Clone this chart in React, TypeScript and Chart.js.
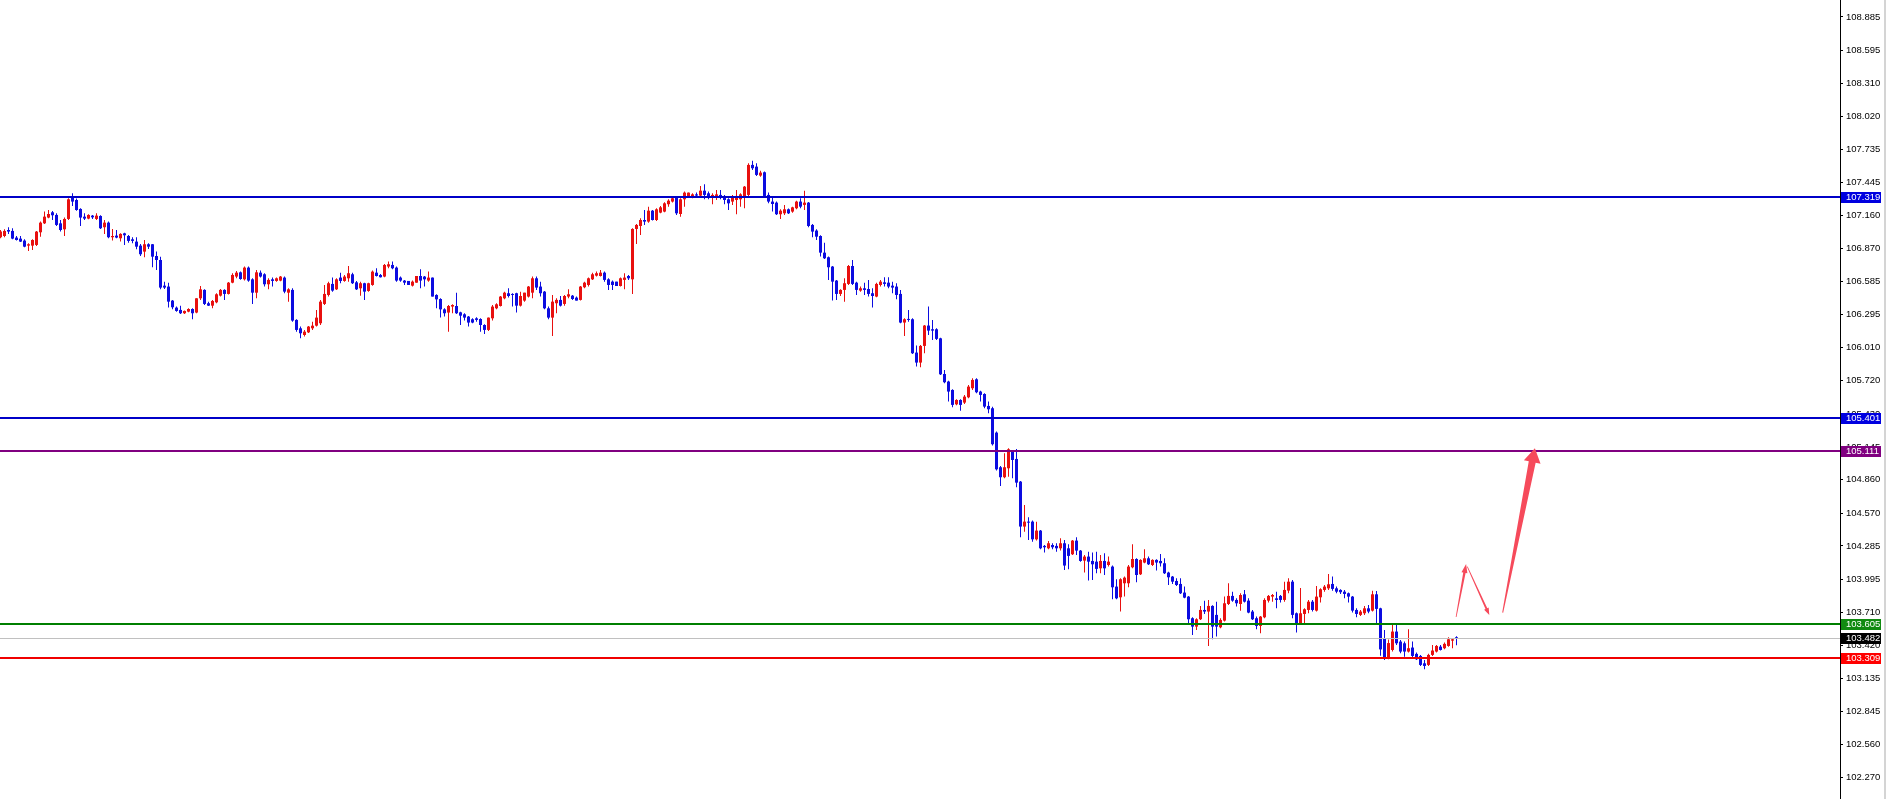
import { useEffect, useRef } from "react";
import { Chart, registerables } from "chart.js";

Chart.register(...registerables);

// ---- Data (USD index style candles) ----
const OPEN = [
  106.969,106.980,107.032,107.024,106.966,106.957,106.940,106.896,106.896,106.902,
  107.012,107.090,107.140,107.186,107.163,107.090,107.038,107.128,107.314,107.293,
  107.215,107.148,107.131,107.157,107.128,107.154,107.056,107.096,106.969,106.983,
  106.960,107.003,106.980,106.951,106.931,106.896,106.844,106.908,106.908,106.806,
  106.771,106.548,106.540,106.418,106.357,106.337,106.308,106.322,106.345,106.314,
  106.438,106.511,106.395,106.374,106.403,106.461,106.511,106.476,106.574,106.627,
  106.664,106.603,106.705,106.603,106.487,106.661,106.647,106.560,106.603,106.589,
  106.592,106.618,106.487,106.511,106.250,106.177,106.119,106.142,106.177,106.200,
  106.221,106.389,106.467,106.563,106.516,106.618,106.589,106.612,106.647,106.577,
  106.525,106.569,106.502,106.554,106.661,106.641,106.627,106.714,106.728,106.705,
  106.618,106.592,106.589,106.548,106.574,106.632,106.627,106.592,106.618,106.467,
  106.432,106.342,106.314,106.366,106.371,106.316,106.299,106.279,106.256,106.264,
  106.258,106.206,106.163,106.264,106.351,106.371,106.438,106.482,106.473,106.482,
  106.374,106.418,106.453,106.487,106.612,106.540,106.496,106.351,106.270,106.395,
  106.424,106.389,106.453,106.461,106.444,106.424,106.534,106.554,106.603,106.635,
  106.632,106.661,106.603,106.583,106.583,106.545,106.598,106.632,106.603,107.041,
  107.067,107.119,107.105,107.200,107.119,107.183,107.192,107.256,107.279,107.322,
  107.171,107.299,107.322,107.314,107.342,107.331,107.374,107.351,107.322,107.328,
  107.337,107.328,107.299,107.279,107.293,107.299,107.322,107.337,107.598,107.583,
  107.505,107.534,107.337,107.279,107.270,107.169,107.177,107.212,107.192,107.221,
  107.279,107.250,107.270,107.076,107.027,106.980,106.835,106.795,106.714,106.592,
  106.476,106.511,106.563,106.719,106.574,106.505,106.525,106.519,106.482,106.453,
  106.554,106.577,106.574,106.548,106.540,106.476,106.227,106.258,106.256,105.966,
  105.879,106.024,106.201,106.169,106.169,106.090,105.780,105.714,105.641,105.516,
  105.554,105.531,105.577,105.656,105.734,105.627,105.606,105.502,105.482,105.270,
  104.969,104.882,104.960,105.114,105.041,104.844,104.453,104.496,104.496,104.342,
  104.418,104.285,104.264,104.293,104.285,104.264,104.308,104.264,104.212,104.331,
  104.244,104.157,104.192,104.154,104.148,104.090,104.154,104.119,104.105,103.931,
  103.838,103.960,103.960,104.099,104.171,104.038,104.140,104.177,104.119,104.163,
  104.154,104.134,104.053,104.018,103.980,103.954,103.879,103.844,103.656,103.583,
  103.647,103.728,103.714,103.763,103.685,103.577,103.635,103.780,103.850,103.815,
  103.780,103.864,103.809,103.714,103.656,103.589,103.664,103.809,103.844,103.829,
  103.850,103.815,103.896,103.974,103.699,103.612,103.693,103.728,103.800,103.722,
  103.838,103.902,103.916,103.954,103.916,103.902,103.887,103.873,103.844,103.728,
  103.685,103.699,103.742,103.722,103.864,103.742,103.482,103.314,103.380,103.540,
  103.453,103.438,103.366,103.401,103.346,103.328,103.264,103.250,103.337,103.366,
  103.409,103.395,103.415,103.461,103.488,
];

const HIGH = [
  107.032,107.038,107.056,107.047,106.980,106.980,106.951,106.916,106.951,107.024,
  107.105,107.192,107.206,107.198,107.177,107.119,107.140,107.308,107.351,107.305,
  107.221,107.177,107.169,107.163,107.177,107.160,107.119,107.105,107.041,107.032,
  107.003,107.009,106.989,106.969,106.969,106.911,106.945,106.916,106.911,106.844,
  106.800,106.583,106.574,106.424,106.366,106.374,106.331,106.351,106.351,106.438,
  106.545,106.516,106.409,106.424,106.482,106.519,106.516,106.580,106.656,106.676,
  106.670,106.714,106.714,106.612,106.685,106.679,106.656,106.612,106.618,106.618,
  106.632,106.627,106.525,106.525,106.256,106.192,106.163,106.198,106.235,106.337,
  106.424,106.554,106.583,106.618,106.612,106.661,106.641,106.719,106.661,106.589,
  106.583,106.574,106.574,106.679,106.699,106.650,106.737,106.757,106.757,106.714,
  106.627,106.598,106.589,106.592,106.632,106.690,106.632,106.670,106.618,106.473,
  106.438,106.351,106.380,106.386,106.487,106.322,106.308,106.285,106.264,106.273,
  106.264,106.212,106.270,106.380,106.395,106.458,106.496,106.525,106.482,106.487,
  106.496,106.487,106.545,106.627,106.627,106.583,106.502,106.366,106.467,106.438,
  106.458,106.467,106.516,106.467,106.453,106.545,106.583,106.618,106.661,106.670,
  106.685,106.670,106.612,106.592,106.583,106.618,106.656,106.641,107.047,107.085,
  107.134,107.206,107.235,107.206,107.221,107.241,107.273,107.299,107.322,107.328,
  107.308,107.366,107.357,107.351,107.357,107.415,107.429,107.366,107.351,107.380,
  107.380,107.337,107.308,107.337,107.380,107.351,107.415,107.612,107.635,107.612,
  107.548,107.540,107.357,107.322,107.279,107.212,107.250,107.218,107.235,107.287,
  107.308,107.374,107.276,107.085,107.038,106.986,106.922,106.801,106.719,106.598,
  106.516,106.612,106.728,106.772,106.583,106.540,106.574,106.598,106.525,106.574,
  106.598,106.621,106.621,106.583,106.569,106.511,106.264,106.337,106.264,106.027,
  106.032,106.206,106.366,106.250,106.177,106.096,105.815,105.722,105.647,105.560,
  105.560,105.598,105.685,105.743,105.743,105.635,105.612,105.540,105.496,105.279,
  104.980,105.090,105.134,105.119,105.128,104.850,104.641,104.534,104.505,104.496,
  104.424,104.293,104.328,104.308,104.308,104.351,104.337,104.299,104.337,104.360,
  104.250,104.206,104.235,104.227,104.235,104.206,104.221,104.192,104.114,103.995,
  104.003,104.018,104.119,104.299,104.177,104.169,104.256,104.192,104.169,104.169,
  104.215,104.177,104.061,104.024,104.003,104.003,103.931,103.850,103.664,103.656,
  103.763,103.809,103.815,103.769,103.800,103.656,103.844,103.960,103.887,103.829,
  103.873,103.902,103.829,103.728,103.670,103.676,103.829,103.858,103.867,103.887,
  103.858,103.974,104.003,103.989,103.705,103.919,103.742,103.815,103.815,103.937,
  103.916,103.945,104.041,104.018,103.931,103.908,103.902,103.879,103.850,103.742,
  103.728,103.763,103.771,103.896,103.893,103.748,103.554,103.470,103.612,103.612,
  103.467,103.453,103.560,103.453,103.357,103.337,103.293,103.346,103.424,103.424,
  103.424,103.444,103.490,103.482,103.500,
];

const LOW = [
  106.960,106.969,106.998,106.951,106.940,106.928,106.882,106.850,106.858,106.893,
  106.974,107.085,107.134,107.119,107.067,107.018,106.980,107.119,107.241,107.200,
  107.067,107.119,107.125,107.128,107.119,107.041,106.998,106.960,106.940,106.960,
  106.931,106.902,106.922,106.916,106.864,106.806,106.795,106.867,106.708,106.685,
  106.516,106.519,106.357,106.342,106.322,106.302,106.302,106.316,106.256,106.308,
  106.424,106.380,106.371,106.351,106.395,106.453,106.424,106.470,106.569,106.612,
  106.600,106.592,106.583,106.389,106.438,106.618,106.540,106.516,106.540,106.583,
  106.586,106.482,106.409,106.235,106.148,106.090,106.105,106.137,106.163,106.192,
  106.206,106.380,106.453,106.496,106.511,106.569,106.583,106.583,106.563,106.511,
  106.461,106.424,106.496,106.548,106.627,106.618,106.621,106.699,106.690,106.583,
  106.583,106.554,106.554,106.540,106.574,106.525,106.540,106.583,106.453,106.351,
  106.270,106.279,106.148,106.308,106.302,106.206,106.244,106.192,106.221,106.235,
  106.148,106.128,106.154,106.244,106.342,106.366,106.429,106.444,106.366,106.314,
  106.366,106.409,106.444,106.438,106.511,106.453,106.342,106.256,106.111,106.308,
  106.366,106.374,106.438,106.424,106.418,106.418,106.525,106.540,106.598,106.627,
  106.627,106.583,106.511,106.511,106.545,106.540,106.516,106.598,106.476,106.911,
  106.989,107.076,107.096,107.114,107.111,107.177,107.186,107.235,107.270,107.163,
  107.148,107.235,107.322,107.308,107.322,107.322,107.299,107.299,107.256,107.293,
  107.299,107.256,107.206,107.250,107.169,107.235,107.221,107.322,107.554,107.502,
  107.496,107.322,107.264,107.192,107.163,107.128,107.163,107.171,107.183,107.212,
  107.221,107.206,107.056,106.969,106.945,106.801,106.780,106.598,106.418,106.424,
  106.458,106.409,106.554,106.554,106.467,106.496,106.467,106.453,106.357,106.447,
  106.540,106.540,106.525,106.482,106.429,106.221,106.111,106.235,105.954,105.844,
  105.838,105.960,106.119,106.076,106.076,105.772,105.699,105.540,105.490,105.508,
  105.461,105.519,105.569,105.641,105.612,105.540,105.482,105.438,105.157,104.940,
  104.806,104.873,104.887,104.873,104.795,104.360,104.409,104.337,104.322,104.331,
  104.256,104.227,104.256,104.256,104.235,104.244,104.076,104.082,104.206,104.206,
  104.148,104.053,103.983,103.989,104.047,104.047,104.032,104.105,103.821,103.821,
  103.714,103.844,103.925,104.090,103.969,104.032,104.134,104.119,104.111,104.070,
  104.105,104.041,103.945,103.954,103.937,103.867,103.829,103.612,103.511,103.554,
  103.641,103.693,103.415,103.473,103.496,103.569,103.627,103.771,103.800,103.757,
  103.722,103.792,103.699,103.641,103.560,103.525,103.656,103.792,103.800,103.742,
  103.792,103.800,103.873,103.656,103.531,103.598,103.612,103.699,103.714,103.714,
  103.792,103.887,103.902,103.896,103.873,103.867,103.829,103.792,103.705,103.664,
  103.676,103.685,103.699,103.714,103.612,103.330,103.293,103.299,103.366,103.424,
  103.351,103.322,103.357,103.317,103.293,103.241,103.212,103.241,103.328,103.357,
  103.375,103.386,103.409,103.395,103.420,
];

const CLOSE = [
  107.018,107.024,107.018,106.957,106.945,106.931,106.887,106.908,106.945,107.018,
  107.096,107.148,107.171,107.160,107.076,107.032,107.128,107.299,107.279,107.206,
  107.140,107.131,107.163,107.142,107.157,107.047,107.096,106.969,106.980,106.966,
  106.998,106.986,106.937,106.937,106.887,106.821,106.908,106.887,106.800,106.771,
  106.531,106.531,106.409,106.360,106.328,106.308,106.328,106.345,106.308,106.438,
  106.516,106.389,106.374,106.415,106.473,106.511,106.476,106.574,106.641,106.661,
  106.606,106.705,106.592,106.487,106.664,106.627,106.560,106.598,106.589,106.612,
  106.627,106.496,106.516,106.244,106.163,106.134,106.148,106.192,106.200,106.270,
  106.409,106.476,106.569,106.505,106.603,106.589,106.627,106.656,106.569,106.516,
  106.569,106.496,106.569,106.670,106.632,106.621,106.728,106.734,106.699,106.592,
  106.592,106.574,106.554,106.583,106.632,106.592,106.603,106.618,106.453,106.429,
  106.342,106.308,106.371,106.380,106.308,106.287,106.270,106.227,106.227,106.250,
  106.206,106.163,106.270,106.366,106.386,106.453,106.487,106.458,106.467,106.374,
  106.458,106.487,106.540,106.612,106.531,106.482,106.351,106.270,106.409,106.424,
  106.374,106.458,106.473,106.432,106.418,106.540,106.574,106.612,106.647,106.656,
  106.661,106.598,106.554,106.554,106.545,106.612,106.618,106.612,107.041,107.076,
  107.119,107.105,107.200,107.119,107.212,107.229,107.264,107.287,107.308,107.177,
  107.299,107.357,107.357,107.342,107.331,107.374,107.337,107.322,107.337,107.342,
  107.314,107.293,107.264,107.322,107.328,107.342,107.409,107.598,107.569,107.511,
  107.531,107.328,107.279,107.258,107.169,107.200,107.212,107.177,107.229,107.279,
  107.235,107.270,107.067,107.018,106.974,106.835,106.786,106.708,106.583,106.476,
  106.511,106.569,106.719,106.563,106.511,106.525,106.511,106.476,106.458,106.563,
  106.583,106.563,106.540,106.531,106.467,106.227,106.256,106.250,105.960,105.879,
  106.024,106.201,106.157,106.157,106.085,105.777,105.708,105.627,105.511,105.554,
  105.511,105.583,105.670,105.728,105.621,105.598,105.496,105.473,105.169,104.951,
  104.882,104.969,105.125,105.032,104.835,104.453,104.496,104.487,104.342,104.418,
  104.264,104.273,104.308,104.273,104.264,104.308,104.114,104.198,104.331,104.244,
  104.154,104.192,104.148,104.125,104.085,104.154,104.090,104.148,103.925,103.829,
  103.995,104.009,104.105,104.171,104.032,104.163,104.177,104.125,104.163,104.140,
  104.134,104.047,104.012,103.974,103.945,103.873,103.835,103.647,103.583,103.647,
  103.728,103.714,103.763,103.583,103.583,103.641,103.786,103.850,103.809,103.786,
  103.858,103.800,103.705,103.647,103.589,103.670,103.815,103.850,103.858,103.815,
  103.815,103.902,103.974,103.685,103.612,103.699,103.734,103.800,103.728,103.844,
  103.908,103.931,103.951,103.911,103.887,103.882,103.867,103.844,103.722,103.693,
  103.714,103.742,103.714,103.864,103.737,103.385,103.308,103.440,103.540,103.438,
  103.366,103.366,103.395,103.328,103.299,103.250,103.241,103.337,103.375,103.415,
  103.380,103.433,103.473,103.473,103.482,
];

// Price-axis tick labels shown on the right
const Y_TICKS = [
  108.885, 108.595, 108.31, 108.02, 107.735, 107.445, 107.16, 106.87, 106.585,
  106.295, 106.01, 105.72, 105.43, 105.145, 104.86, 104.57, 104.285, 103.995,
  103.71, 103.42, 103.135, 102.845, 102.56, 102.27,
];

// Horizontal levels and their tags
const LEVEL_VALUES = [107.319, 105.401, 105.111, 103.605, 103.309];
const LEVEL_COLORS = ["#0000c8", "#0000c8", "#800080", "#007f00", "#f00000"];
const TAG_COLORS = ["#0000e0", "#0000e0", "#800080", "#108a10", "#ff0000"];
const BID_VALUE = 103.482;

// Hand-drawn arrows, in data units: [x index, price]
const ARROW_FROM = [[363.9, 103.667], [366.7, 104.104], [375.55, 103.704]];
const ARROW_TO = [[366.4, 104.128], [372.2, 103.684], [383.6, 105.134]];

// ---- styles ----
const BULL = "#e8100f";
const BEAR = "#0c0ce0";
const ARROW_COLOR = "#f64a5b";
const ARROW_SHAPES = [
  { w0: 0.8, w1: 2.4, hw: 6, hl: 9 },
  { w0: 0.8, w1: 2.0, hw: 5, hl: 7 },
  { w0: 1.0, w1: 7.0, hw: 17, hl: 14 },
];
const FONT = "Liberation Sans";
const FONT_SIZE = 9.5;
const AXIS_W = 46;

function drawArrow(ctx: CanvasRenderingContext2D, x0: number, y0: number, x1: number, y1: number, s: { w0: number; w1: number; hw: number; hl: number }) {
  const dx = x1 - x0, dy = y1 - y0;
  const len = Math.hypot(dx, dy);
  const ux = dx / len, uy = dy / len;
  const nx = -uy, ny = ux;
  const bx = x1 - ux * s.hl, by = y1 - uy * s.hl;
  ctx.beginPath();
  ctx.moveTo(x0 + nx * s.w0 / 2, y0 + ny * s.w0 / 2);
  ctx.lineTo(bx + nx * s.w1 / 2, by + ny * s.w1 / 2);
  ctx.lineTo(bx + nx * s.hw / 2, by + ny * s.hw / 2);
  ctx.lineTo(x1, y1);
  ctx.lineTo(bx - nx * s.hw / 2, by - ny * s.hw / 2);
  ctx.lineTo(bx - nx * s.w1 / 2, by - ny * s.w1 / 2);
  ctx.lineTo(x0 - nx * s.w0 / 2, y0 - ny * s.w0 / 2);
  ctx.closePath();
  ctx.fill();
}

const overlayPlugin = {
  id: "overlay",
  afterDatasetsDraw(chart: any) {
    const { ctx, chartArea, scales } = chart;
    const y = scales.y, x = scales.x;
    ctx.save();
    const by = Math.round(y.getPixelForValue(BID_VALUE)) + 0.5;
    ctx.strokeStyle = "#c0c0c0";
    ctx.lineWidth = 1;
    ctx.beginPath();
    ctx.moveTo(chartArea.left, by);
    ctx.lineTo(chartArea.right, by);
    ctx.stroke();
    LEVEL_VALUES.forEach((v, i) => {
      const py = Math.round(y.getPixelForValue(v));
      ctx.strokeStyle = LEVEL_COLORS[i];
      ctx.lineWidth = 2;
      ctx.beginPath();
      ctx.moveTo(chartArea.left, py);
      ctx.lineTo(chartArea.right, py);
      ctx.stroke();
    });
    ctx.fillStyle = ARROW_COLOR;
    ARROW_FROM.forEach((f, i) => {
      const t = ARROW_TO[i];
      drawArrow(
        ctx,
        x.getPixelForValue(f[0]), y.getPixelForValue(f[1]),
        x.getPixelForValue(t[0]), y.getPixelForValue(t[1]),
        ARROW_SHAPES[i]
      );
    });
    ctx.restore();
  },
  afterDraw(chart: any) {
    const { ctx, chartArea, scales, width } = chart;
    const y = scales.y;
    ctx.save();
    const tag = (v: number, bg: string) => {
      const py = Math.round(y.getPixelForValue(v));
      ctx.fillStyle = bg;
      ctx.fillRect(chartArea.right + 1, py - 5, 40, 11);
      ctx.fillStyle = "#ffffff";
      ctx.font = `${FONT_SIZE}px "${FONT}"`;
      ctx.textBaseline = "middle";
      ctx.textAlign = "left";
      ctx.fillText(v.toFixed(3), chartArea.right + 6, py + 0.5);
    };
    LEVEL_VALUES.forEach((v, i) => tag(v, TAG_COLORS[i]));
    tag(BID_VALUE, "#000000");
    ctx.fillStyle = "#d4d4d4";
    ctx.fillRect(width - 2, 0, 2, chart.height);
    ctx.restore();
  },
};

export default function App() {
  const ref = useRef<HTMLCanvasElement>(null);
  useEffect(() => {
    document.body.style.margin = "0";
    const idx = OPEN.map((_, i) => i);
    const colors = idx.map((i) => (CLOSE[i] >= OPEN[i] ? BULL : BEAR));
    const common = {
      backgroundColor: colors,
      borderWidth: 0,
      borderSkipped: false,
      grouped: false,
      inflateAmount: 0,
    };
    const chart = new Chart(ref.current as HTMLCanvasElement, {
      type: "bar",
      data: {
        datasets: [
          {
            ...common,
            label: "wick",
            data: idx.map((i) => ({ x: i, y: [LOW[i], HIGH[i]] })),
            barThickness: 1,
            order: 2,
          } as any,
          {
            ...common,
            label: "body",
            data: idx.map((i) => ({ x: i, y: [OPEN[i], CLOSE[i]] })),
            barThickness: 3,
            minBarLength: 1,
            order: 1,
          } as any,
        ],
      },
      options: {
        animation: false,
        responsive: false,
        devicePixelRatio: 1,
        events: [],
        layout: { padding: 0 },
        plugins: { legend: { display: false }, tooltip: { enabled: false } },
        scales: {
          x: {
            type: "linear",
            min: -0.125,
            max: 459.875,
            offset: false,
            display: false,
          },
          y: {
            type: "linear",
            position: "right",
            min: 102.084,
            max: 109.032,
            afterBuildTicks: (s: any) => {
              s.ticks = Y_TICKS.map((v) => ({ value: v }));
            },
            afterFit: (s: any) => {
              s.width = AXIS_W;
              s.paddingTop = 0;
              s.paddingBottom = 0;
            },
            ticks: {
              autoSkip: false,
              padding: 3,
              color: "#000000",
              font: { family: FONT, size: FONT_SIZE },
              callback: (v: any) => Number(v).toFixed(3),
            },
            grid: {
              drawOnChartArea: false,
              drawTicks: true,
              tickLength: 3,
              color: "#000000",
              lineWidth: 1,
            },
            border: { display: true, color: "#000000", width: 1 },
          },
        },
      } as any,
      plugins: [overlayPlugin],
    });
    return () => chart.destroy();
  }, []);
  return (
    <div style={{ width: 1886, height: 799, background: "#ffffff" }}>
      <canvas ref={ref} width={1886} height={799} style={{ display: "block" }} />
    </div>
  );
}
